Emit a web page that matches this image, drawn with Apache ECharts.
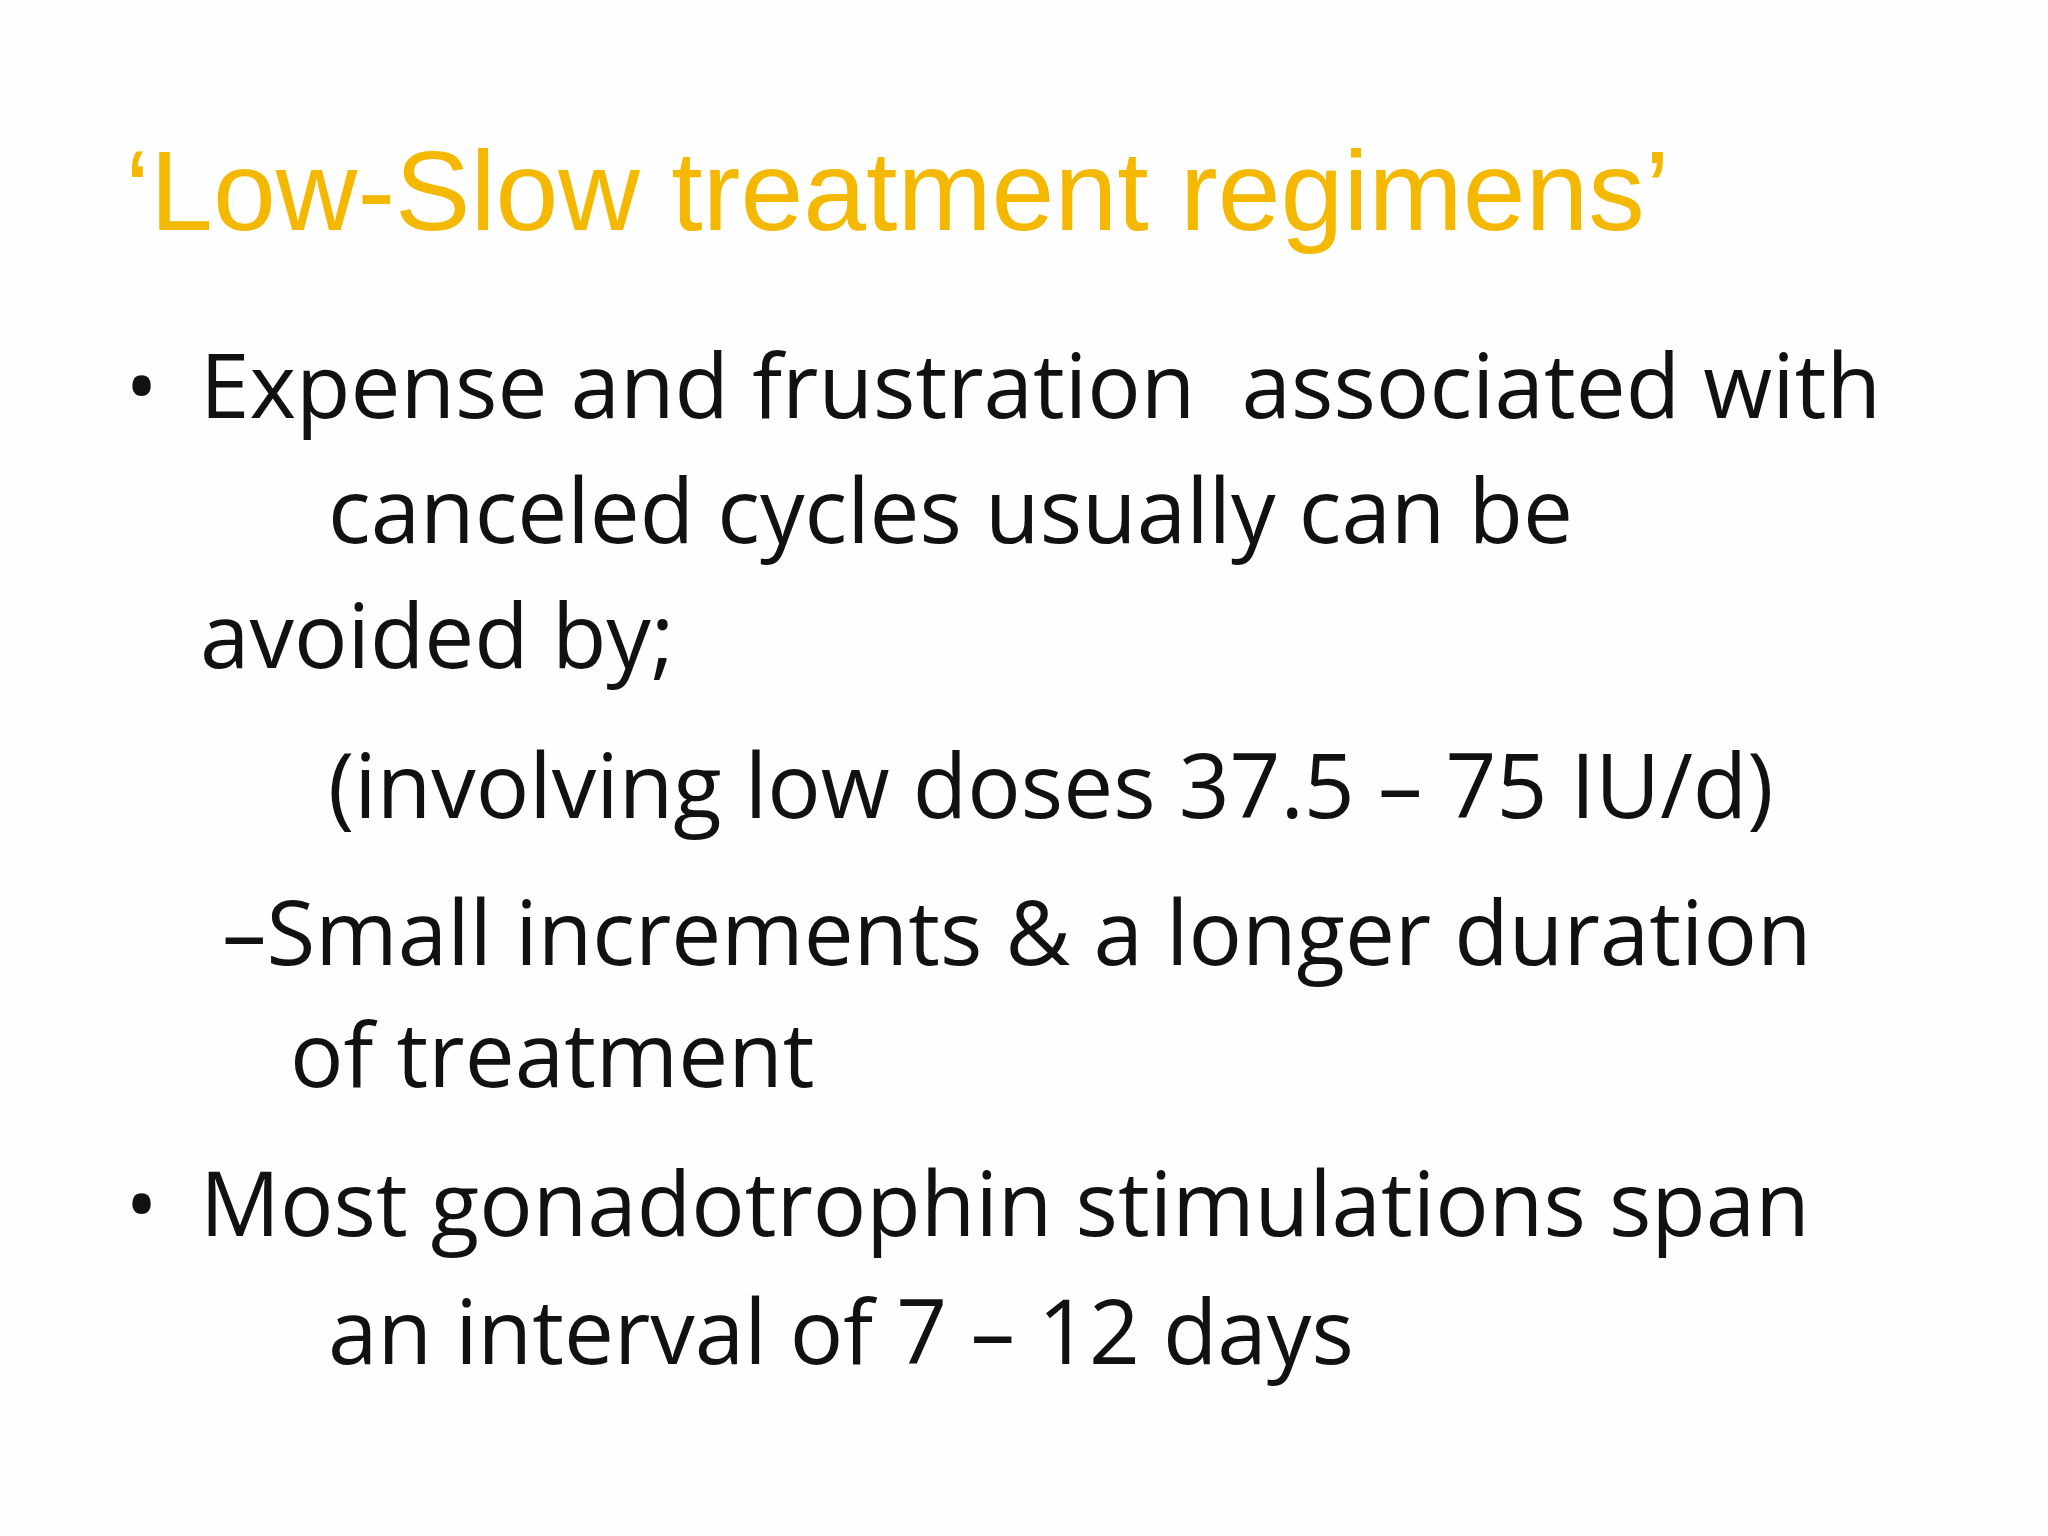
<!DOCTYPE html>
<html>
<head>
<meta charset="utf-8">
<script src="https://cdn.jsdelivr.net/npm/echarts@6/dist/echarts.min.js"></script>
<style>
  html, body { margin: 0; padding: 0; background: #fefefe; }
  #main { width: 2048px; height: 1536px; }
</style>
</head>
<body>
<div id="main"></div>
<script>
var titleText = '\u2018Low-Slow treatment regimens\u2019';
var bodyLines = [
  'Expense and frustration  associated with',
  'canceled cycles usually can be',
  'avoided by;',
  '(involving low doses 37.5 \u2013 75 IU/d)',
  '\u2013Small increments & a longer duration',
  'of treatment',
  'Most gonadotrophin stimulations span',
  'an interval of 7 \u2013 12 days'
];
// which lines start with a bullet
var bulletLines = [0, 6];

var lineX = [200, 328, 200, 328, 222, 290, 200, 328];
var lineY = [393, 518, 643, 793, 940, 1062, 1211, 1339];

var chart = echarts.init(document.getElementById('main'));
var elements = [{
  type: 'text',
  left: 125, top: 142,
  style: {
    text: titleText,
    font: '113px "Liberation Sans", Arial, sans-serif',
    fill: '#F5B800',
    shadowColor: 'rgba(0,0,0,0.3)',
    shadowBlur: 4,
    shadowOffsetX: 3,
    shadowOffsetY: 3
  }
}];
bodyLines.forEach(function (t, i) {
  elements.push({
    type: 'text',
    x: lineX[i], y: lineY[i],
    style: {
      text: t,
      font: '89px "Open Sans", "Noto Sans", sans-serif',
      fill: '#111',
      verticalAlign: 'middle'
    }
  });
});
bulletLines.forEach(function (i) {
  elements.push({
    type: 'text',
    x: 125, y: lineY[i],
    style: {
      text: '\u2022',
      font: '88px "Open Sans", sans-serif',
      fill: '#111',
      verticalAlign: 'middle'
    }
  });
});
chart.setOption({ backgroundColor: '#fefefe', graphic: elements });
</script>
</body>
</html>
